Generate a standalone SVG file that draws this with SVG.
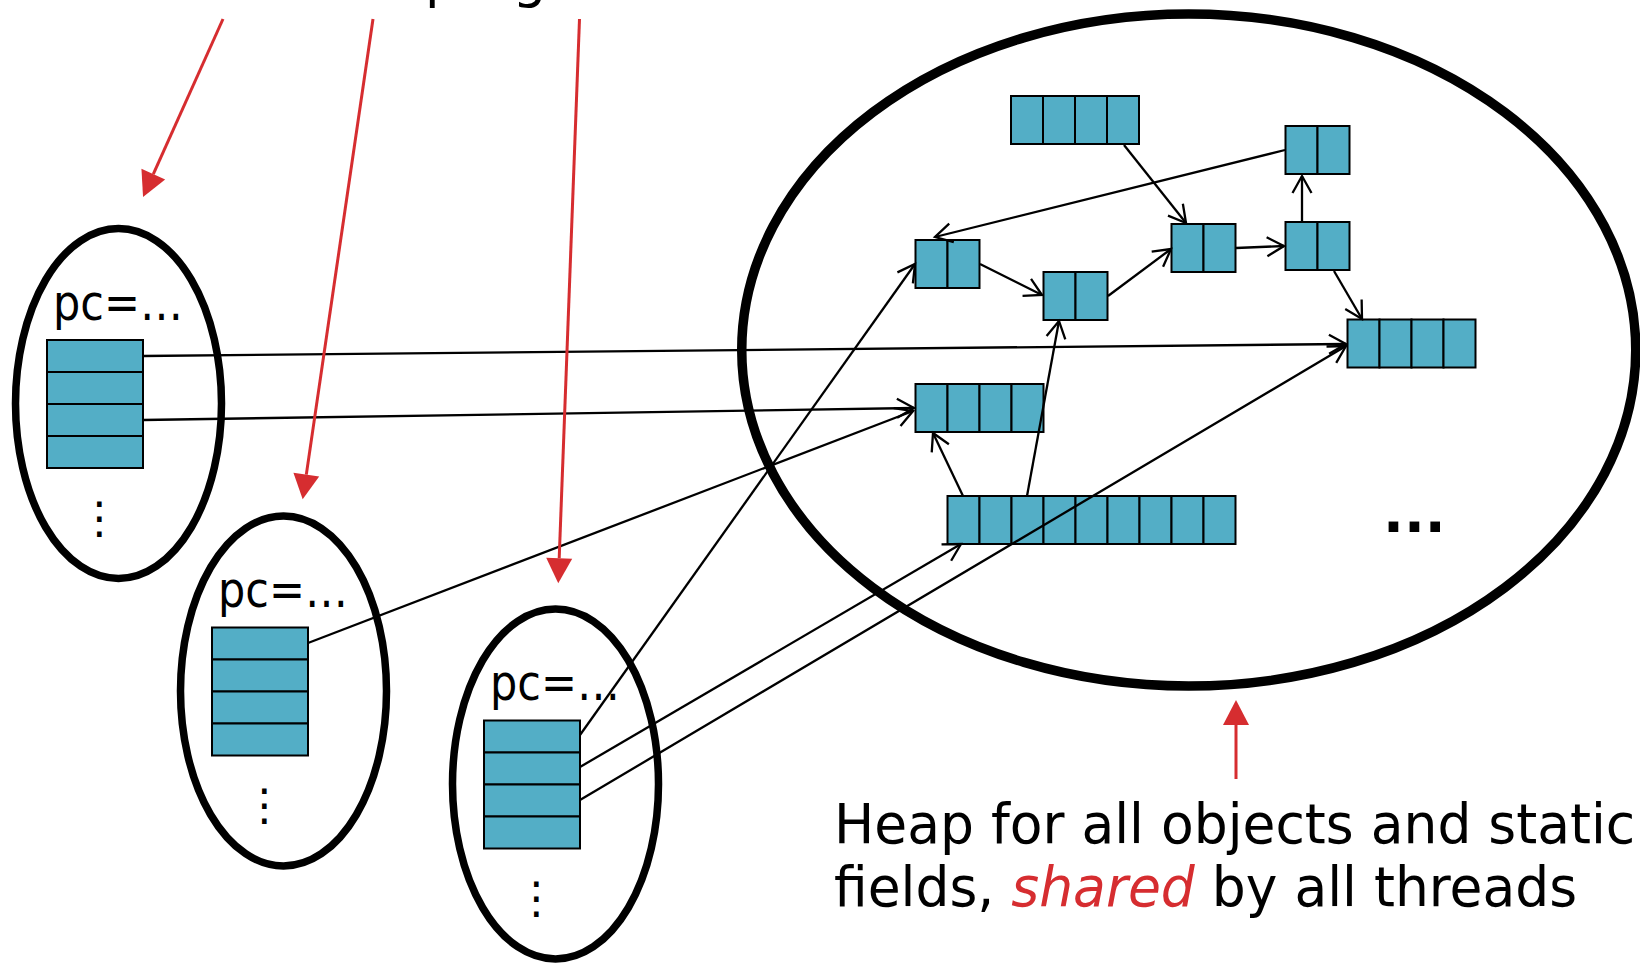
<svg xmlns="http://www.w3.org/2000/svg" xmlns:xlink="http://www.w3.org/1999/xlink" width="1640" height="963" viewBox="0 0 1640 963">
  <style>
    .cell { fill: #53aec6; stroke: #000; stroke-width: 2; }
    .thread { fill: none; stroke: #000; stroke-width: 7.5; }
    .heap { fill: none; stroke: #000; stroke-width: 9.5; }
    .txt { font-family: "DejaVu Sans", "Liberation Sans", sans-serif; fill: #000; }
    .pc { font-size: 43px; }
    .vdots { font-size: 44px; text-anchor: middle; }
    .label { font-size: 53.5px; }
    .em { font-style: italic; fill: #d62d30; }
    .ref { fill: none; stroke: #000; stroke-width: 2.3; marker-end: url(#open); }
    .red { fill: none; stroke: #d62d30; stroke-width: 3; marker-end: url(#tri); }
  </style>
  <defs>
    <!-- open V head for references -->
    <marker id="open" markerUnits="userSpaceOnUse" orient="auto" overflow="visible" markerWidth="1" markerHeight="1">
      <path d="M-17,-9.5 L0,0 L-17,9.5" fill="none" stroke="#000" stroke-width="2.3"/>
    </marker>
    <!-- solid head for the red pointers -->
    <marker id="tri" markerUnits="userSpaceOnUse" orient="auto" overflow="visible" markerWidth="1" markerHeight="1">
      <path d="M0,-13 L25,0 L0,13 Z" fill="#d62d30"/>
    </marker>
    <!-- stack frame slot and heap field cell -->
    <rect id="slot" class="cell" width="96" height="32"/>
    <rect id="field" class="cell" width="32" height="48"/>
    <!-- one thread: outline, pc label, stack of four slots, more below -->
    <g id="threadShape">
      <ellipse class="thread" cx="0" cy="0" rx="103" ry="175"/>
      <text class="txt pc" transform="translate(-65.5,-84) scale(1,1.17)">pc=…</text>
      <use xlink:href="#slot" x="-71.5" y="-63.5"/>
      <use xlink:href="#slot" x="-71.5" y="-31.5"/>
      <use xlink:href="#slot" x="-71.5" y="0.5"/>
      <use xlink:href="#slot" x="-71.5" y="32.5"/>
      <text class="txt vdots" x="-19" y="129">⋮</text>
    </g>
  </defs>

  <!-- heading line, mostly above the visible area -->
  <g id="heading">
    <text class="txt label" x="425" y="-3">program</text>
  </g>

  <!-- threads -->
  <g id="thread-1"><use xlink:href="#threadShape" transform="translate(118.5,403.5)"/></g>
  <g id="thread-2"><use xlink:href="#threadShape" transform="translate(283.5,691)"/></g>
  <g id="thread-3"><use xlink:href="#threadShape" transform="translate(555.5,784)"/></g>

  <!-- shared heap -->
  <g id="heap">
    <ellipse class="heap" cx="1188.75" cy="350" rx="447" ry="336"/>
    <text class="txt" x="1383" y="532" font-size="55" font-weight="bold">...</text>
  </g>

  <g id="obj-a">
    <use xlink:href="#field" x="1011" y="96"/><use xlink:href="#field" x="1043" y="96"/>
    <use xlink:href="#field" x="1075" y="96"/><use xlink:href="#field" x="1107" y="96"/>
  </g>
  <g id="obj-b">
    <use xlink:href="#field" x="1285.5" y="126"/><use xlink:href="#field" x="1317.5" y="126"/>
  </g>
  <g id="obj-c">
    <use xlink:href="#field" x="915.5" y="240"/><use xlink:href="#field" x="947.5" y="240"/>
  </g>
  <g id="obj-d">
    <use xlink:href="#field" x="1043.5" y="272"/><use xlink:href="#field" x="1075.5" y="272"/>
  </g>
  <g id="obj-e">
    <use xlink:href="#field" x="1171.5" y="224"/><use xlink:href="#field" x="1203.5" y="224"/>
  </g>
  <g id="obj-f">
    <use xlink:href="#field" x="1285.5" y="222"/><use xlink:href="#field" x="1317.5" y="222"/>
  </g>
  <g id="obj-g">
    <use xlink:href="#field" x="1347.5" y="319.5"/><use xlink:href="#field" x="1379.5" y="319.5"/>
    <use xlink:href="#field" x="1411.5" y="319.5"/><use xlink:href="#field" x="1443.5" y="319.5"/>
  </g>
  <g id="obj-h">
    <use xlink:href="#field" x="915.5" y="384"/><use xlink:href="#field" x="947.5" y="384"/>
    <use xlink:href="#field" x="979.5" y="384"/><use xlink:href="#field" x="1011.5" y="384"/>
  </g>
  <g id="obj-i">
    <use xlink:href="#field" x="947.5" y="496"/><use xlink:href="#field" x="979.5" y="496"/>
    <use xlink:href="#field" x="1011.5" y="496"/><use xlink:href="#field" x="1043.5" y="496"/>
    <use xlink:href="#field" x="1075.5" y="496"/><use xlink:href="#field" x="1107.5" y="496"/>
    <use xlink:href="#field" x="1139.5" y="496"/><use xlink:href="#field" x="1171.5" y="496"/>
    <use xlink:href="#field" x="1203.5" y="496"/>
  </g>

  <!-- caption for the heap -->
  <g id="heap-caption">
    <text class="txt label" transform="translate(834,843) scale(1,1.04)">Heap for all objects and static</text>
    <text class="txt label" transform="translate(834,906) scale(1,1.04)">fields, <tspan class="em">shared</tspan> by all threads</text>
  </g>

  <!-- references from stacks and between heap objects -->
  <g id="connectors">
    <line class="ref" x1="143" y1="356" x2="1346" y2="344"/>
    <line class="ref" x1="143" y1="420" x2="914" y2="408"/>
    <line class="ref" x1="308" y1="643" x2="913" y2="411"/>
    <line class="ref" x1="580" y1="735" x2="915" y2="264"/>
    <line class="ref" x1="580" y1="767" x2="961" y2="544"/>
    <line class="ref" x1="580" y1="800" x2="1346" y2="346"/>
    <line class="ref" x1="1124" y1="145" x2="1186" y2="223"/>
    <line class="ref" x1="1285" y1="150" x2="935" y2="237"/>
    <line class="ref" x1="980" y1="264" x2="1042" y2="295"/>
    <line class="ref" x1="1108" y1="296" x2="1171" y2="249"/>
    <line class="ref" x1="1236" y1="248" x2="1284" y2="246"/>
    <line class="ref" x1="1302" y1="222" x2="1302" y2="176"/>
    <line class="ref" x1="1334" y1="271" x2="1362" y2="319"/>
    <line class="ref" x1="963" y1="496" x2="933" y2="433"/>
    <line class="ref" x1="1027" y1="496" x2="1059" y2="321"/>
  </g>

  <!-- red pointers -->
  <g id="pointers">
    <line class="red" x1="223" y1="19" x2="153.3" y2="174.2"/>
    <line class="red" x1="373" y1="19" x2="306.3" y2="474.6"/>
    <line class="red" x1="579.5" y1="19" x2="559.2" y2="558.3"/>
    <line class="red" x1="1236" y1="779" x2="1236" y2="725"/>
  </g>
</svg>
